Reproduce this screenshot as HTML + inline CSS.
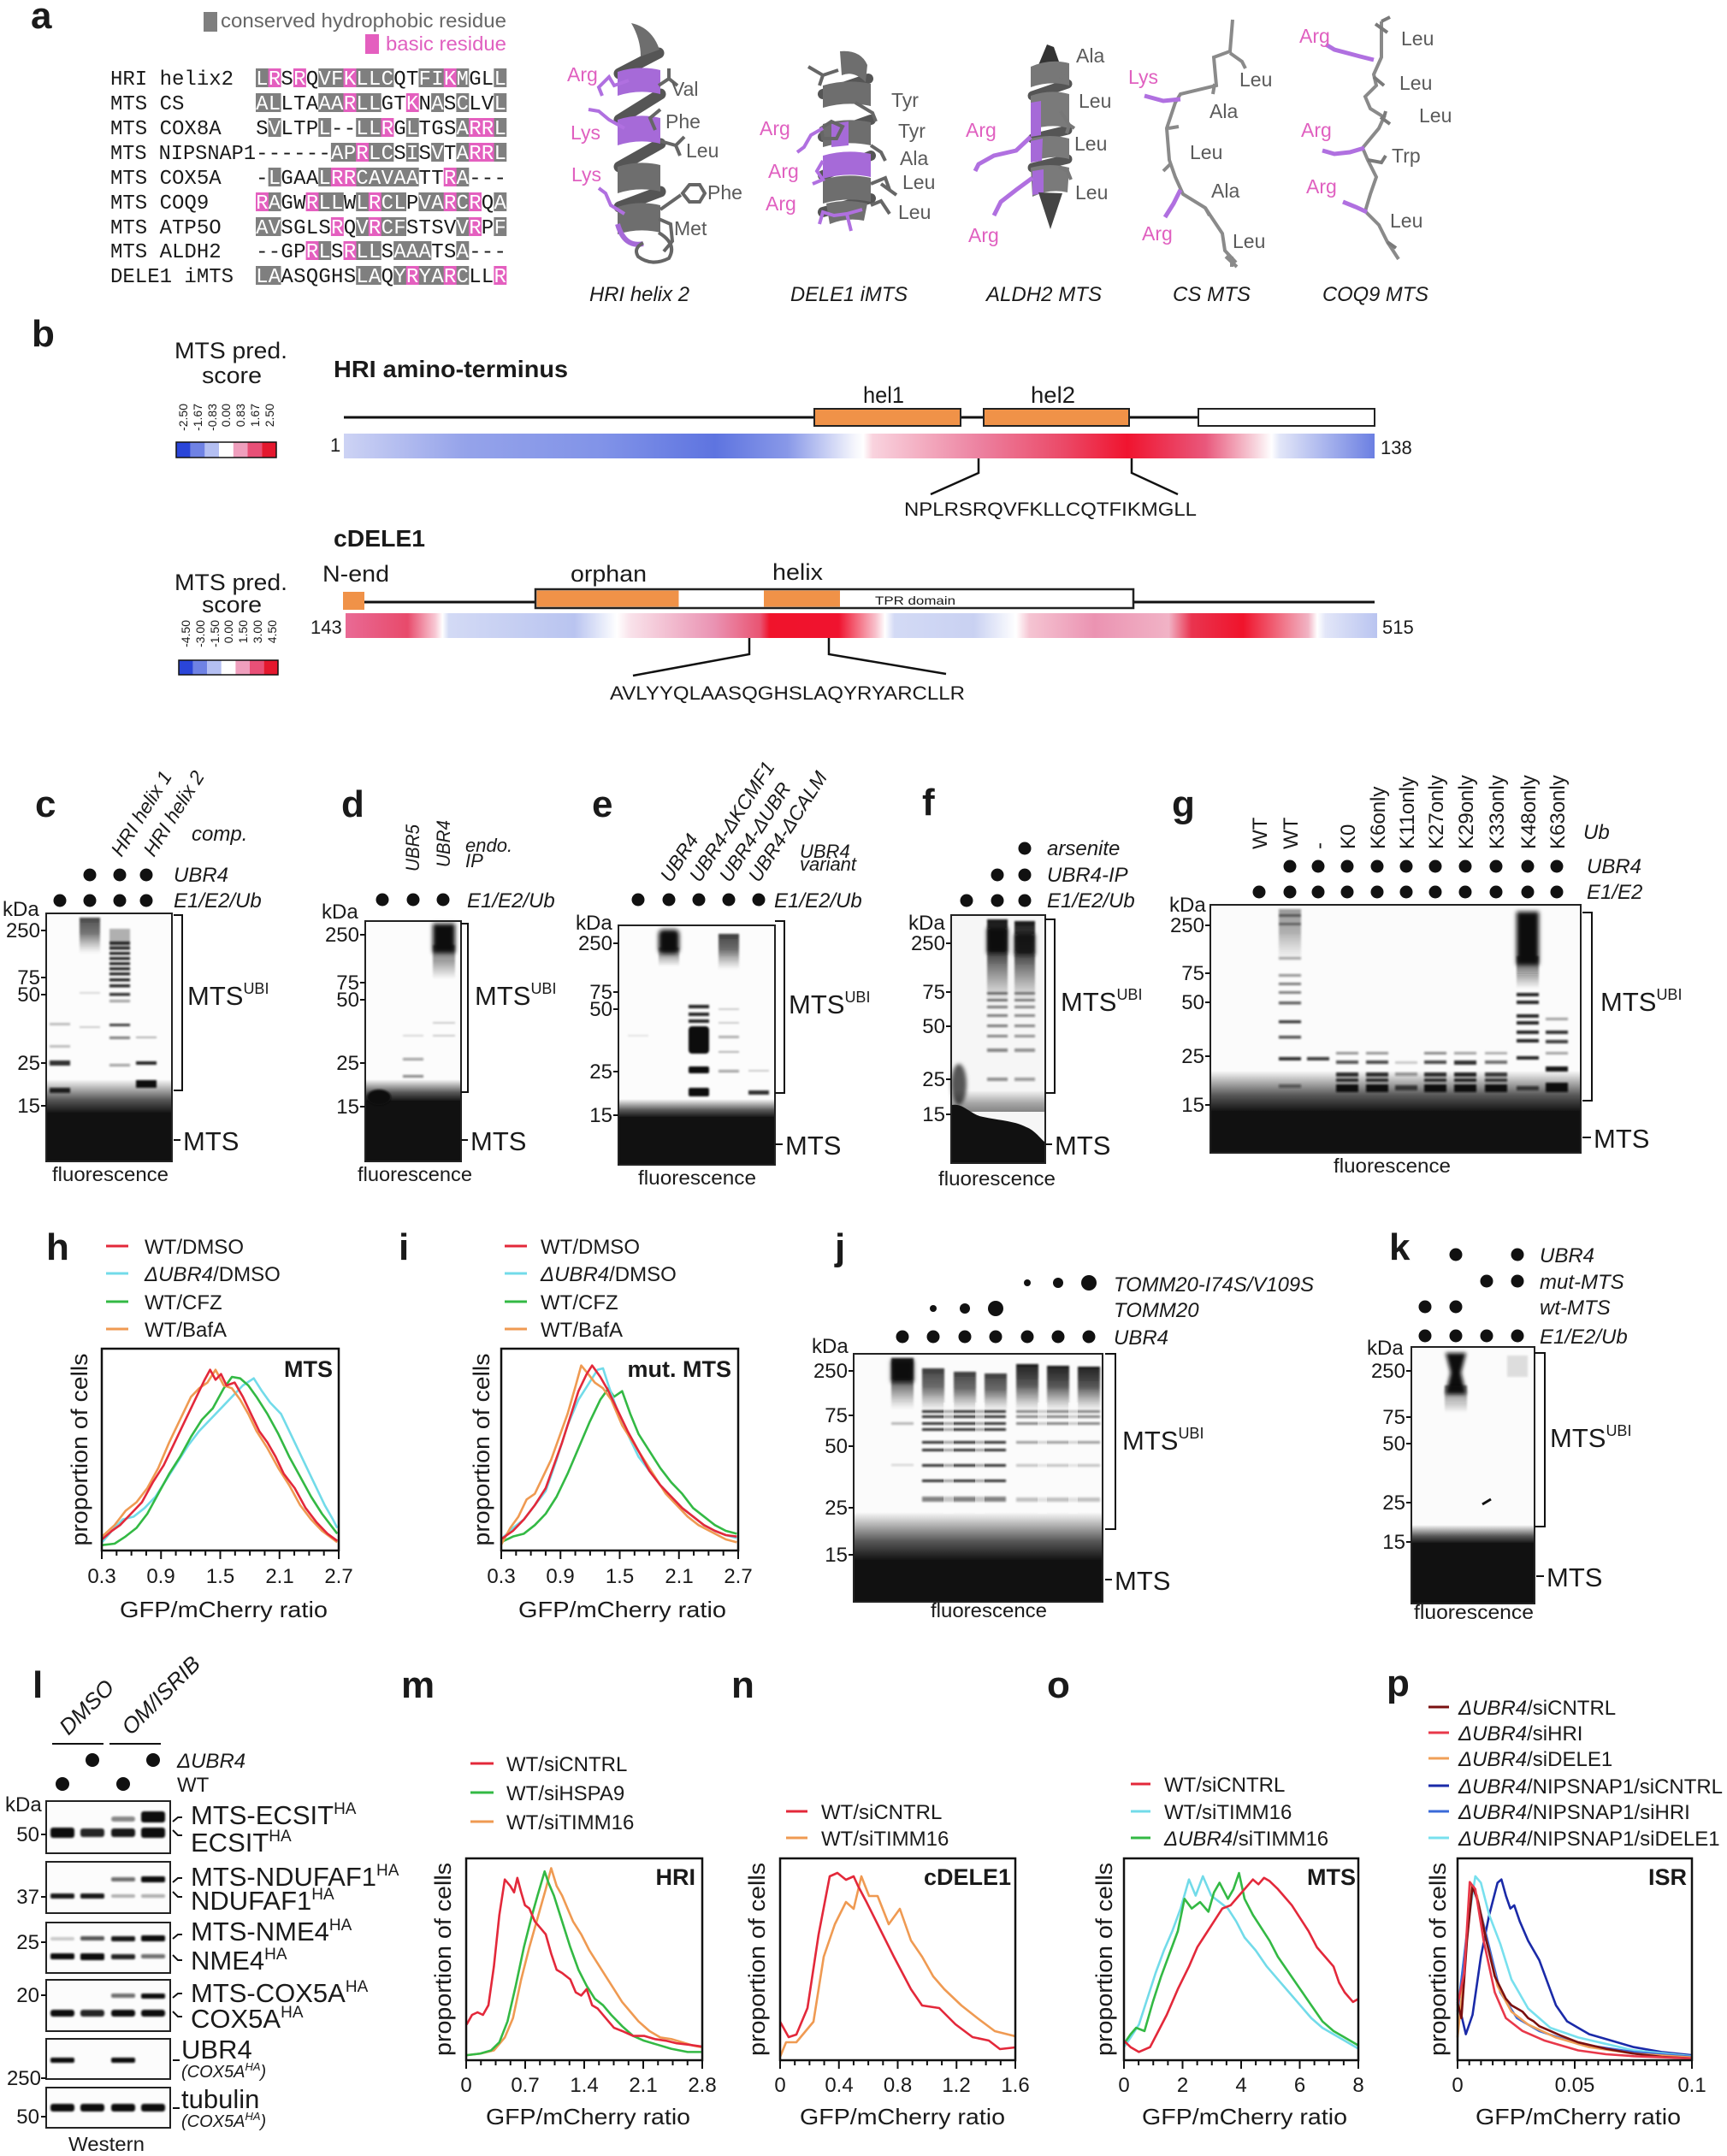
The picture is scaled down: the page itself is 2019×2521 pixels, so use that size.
<!DOCTYPE html>
<html><head><meta charset="utf-8">
<style>
html,body{margin:0;padding:0;background:#fff}
svg{display:block}
text{font-family:"Liberation Sans",Arial,sans-serif;fill:#1a1a1a}
.mono,.mono text,text.mono{font-family:"Liberation Mono","Courier New",monospace;font-size:24px}
.i{font-style:italic}
.bo{font-weight:bold}
.L{font-weight:bold;font-size:44px}
.t{font-size:24px}
.ra{text-anchor:end}
.mid{text-anchor:middle}
.cv{fill:none;stroke-width:2.6;stroke-linejoin:round}
.ax{fill:none;stroke:#111;stroke-width:2.5}
.tk{fill:none;stroke:#111;stroke-width:2}
</style></head><body>
<svg width="2019" height="2521" viewBox="0 0 2019 2521" xmlns="http://www.w3.org/2000/svg">
<defs>
<filter id="bl" x="-20%" y="-100%" width="140%" height="300%"><feGaussianBlur stdDeviation="1.1"/></filter>
<filter id="bl2" x="-30%" y="-30%" width="160%" height="160%"><feGaussianBlur stdDeviation="2.5"/></filter>
<linearGradient id="fd" x1="0" y1="0" x2="0" y2="1"><stop offset="0" stop-color="#111" stop-opacity="0"/><stop offset="0.6" stop-color="#111" stop-opacity="0.7"/><stop offset="1" stop-color="#111" stop-opacity="1"/></linearGradient>
<linearGradient id="fdr" x1="0" y1="0" x2="0" y2="1"><stop offset="0" stop-color="#111" stop-opacity="1"/><stop offset="1" stop-color="#111" stop-opacity="0"/></linearGradient>
<linearGradient id="sm" x1="0" y1="0" x2="0" y2="1"><stop offset="0" stop-color="#111" stop-opacity="0.95"/><stop offset="0.45" stop-color="#222" stop-opacity="0.75"/><stop offset="1" stop-color="#555" stop-opacity="0"/></linearGradient>
<linearGradient id="g1" x1="0" y1="0" x2="1" y2="0">
<stop offset="0" stop-color="#cdd3f4"/><stop offset="0.117" stop-color="#95a3ea"/><stop offset="0.25" stop-color="#8193e8"/><stop offset="0.36" stop-color="#5e74e0"/><stop offset="0.43" stop-color="#8898e8"/><stop offset="0.495" stop-color="#f4f5fc"/><stop offset="0.504" stop-color="#ffffff"/><stop offset="0.513" stop-color="#f9d3de"/><stop offset="0.62" stop-color="#ec7f9e"/><stop offset="0.70" stop-color="#eb4866"/><stop offset="0.76" stop-color="#f0142f"/><stop offset="0.836" stop-color="#e9587c"/><stop offset="0.886" stop-color="#f8d8e0"/><stop offset="0.90" stop-color="#ffffff"/><stop offset="0.908" stop-color="#e2e6f8"/><stop offset="1" stop-color="#6b7fe2"/>
</linearGradient>
<linearGradient id="g2" x1="0" y1="0" x2="1" y2="0">
<stop offset="0" stop-color="#e96a95"/><stop offset="0.06" stop-color="#e84a6b"/><stop offset="0.087" stop-color="#f8c8d4"/><stop offset="0.094" stop-color="#ffffff"/><stop offset="0.10" stop-color="#d3daf5"/><stop offset="0.222" stop-color="#b9c4f0"/><stop offset="0.263" stop-color="#ffffff"/><stop offset="0.276" stop-color="#f9e2ea"/><stop offset="0.357" stop-color="#ea93b3"/><stop offset="0.402" stop-color="#e95472"/><stop offset="0.411" stop-color="#f0132b"/><stop offset="0.478" stop-color="#f0132f"/><stop offset="0.514" stop-color="#f8c2cd"/><stop offset="0.523" stop-color="#ffffff"/><stop offset="0.532" stop-color="#d3daf5"/><stop offset="0.609" stop-color="#c9d1f2"/><stop offset="0.65" stop-color="#ffffff"/><stop offset="0.663" stop-color="#f5c4d2"/><stop offset="0.726" stop-color="#eb93b2"/><stop offset="0.798" stop-color="#f1b3c6"/><stop offset="0.82" stop-color="#e9344f"/><stop offset="0.87" stop-color="#f0132b"/><stop offset="0.933" stop-color="#f1b3c3"/><stop offset="0.942" stop-color="#ffffff"/><stop offset="0.95" stop-color="#e2e6f8"/><stop offset="1" stop-color="#b9c4f0"/>
</linearGradient>
</defs>
<rect width="2019" height="2521" fill="#fff"/>

<!-- ================= PANEL A ================= -->
<text x="36" y="33" class="L">a</text>
<rect x="238" y="14" width="16" height="23" fill="#7f7f7f"/>
<text x="258" y="32" font-size="23" style="fill:#666" textLength="334" lengthAdjust="spacingAndGlyphs">conserved hydrophobic residue</text>
<rect x="427" y="40" width="16" height="23" fill="#e45fbf"/>
<text x="451" y="59" font-size="23" style="fill:#e060c0" textLength="141" lengthAdjust="spacingAndGlyphs">basic residue</text>

<g class="mono">
<text x="129" y="99">HRI helix2</text>
<text x="129" y="128">MTS CS</text>
<text x="129" y="157">MTS COX8A</text>
<text x="129" y="186" textLength="170" lengthAdjust="spacingAndGlyphs">MTS NIPSNAP1</text>
<text x="129" y="215">MTS COX5A</text>
<text x="129" y="244">MTS COQ9</text>
<text x="129" y="273">MTS ATP5O</text>
<text x="129" y="301">MTS ALDH2</text>
<text x="129" y="330">DELE1 iMTS</text>
</g>
<!-- highlight boxes -->
<g fill="#7f7f7f">
<rect x="299" y="80" width="14.9" height="22"/><rect x="372.25" y="80" width="29.5" height="22"/><rect x="416.2" y="80" width="44.2" height="22"/><rect x="489.45" y="80" width="29.5" height="22"/><rect x="533.4" y="80" width="14.9" height="22"/><rect x="577.35" y="80" width="14.9" height="22"/>
<rect x="299" y="109" width="29.5" height="22"/><rect x="372.25" y="109" width="29.5" height="22"/><rect x="416.2" y="109" width="29.5" height="22"/><rect x="504.1" y="109" width="14.9" height="22"/><rect x="533.4" y="109" width="14.9" height="22"/><rect x="577.35" y="109" width="14.9" height="22"/>
<rect x="313.65" y="138" width="14.9" height="22"/><rect x="372.25" y="138" width="14.9" height="22"/><rect x="416.2" y="138" width="29.5" height="22"/><rect x="474.8" y="138" width="14.9" height="22"/><rect x="533.4" y="138" width="14.9" height="22"/><rect x="577.35" y="138" width="14.9" height="22"/>
<rect x="386.9" y="167" width="29.5" height="22"/><rect x="430.85" y="167" width="29.5" height="22"/><rect x="474.8" y="167" width="14.9" height="22"/><rect x="504.1" y="167" width="14.9" height="22"/><rect x="533.4" y="167" width="14.9" height="22"/><rect x="577.35" y="167" width="14.9" height="22"/>
<rect x="313.65" y="196" width="14.9" height="22"/><rect x="372.25" y="196" width="14.9" height="22"/><rect x="416.2" y="196" width="73.5" height="22"/><rect x="533.4" y="196" width="14.9" height="22"/>
<rect x="313.65" y="225" width="14.9" height="22"/><rect x="372.25" y="225" width="29.5" height="22"/><rect x="416.2" y="225" width="14.9" height="22"/><rect x="445.5" y="225" width="29.5" height="22"/><rect x="489.45" y="225" width="29.5" height="22"/><rect x="533.4" y="225" width="14.9" height="22"/><rect x="577.35" y="225" width="14.9" height="22"/>
<rect x="299" y="254" width="29.5" height="22"/><rect x="416.2" y="254" width="14.9" height="22"/><rect x="445.5" y="254" width="29.5" height="22"/><rect x="533.4" y="254" width="14.9" height="22"/><rect x="577.35" y="254" width="14.9" height="22"/>
<rect x="372.25" y="282" width="14.9" height="22"/><rect x="416.2" y="282" width="29.5" height="22"/><rect x="460.15" y="282" width="44.2" height="22"/><rect x="533.4" y="282" width="14.9" height="22"/>
<rect x="299" y="311" width="29.5" height="22"/><rect x="416.2" y="311" width="29.5" height="22"/><rect x="460.15" y="311" width="14.9" height="22"/><rect x="489.45" y="311" width="29.5" height="22"/><rect x="533.4" y="311" width="14.9" height="22"/>
</g>
<g fill="#e45fbf">
<rect x="313.65" y="80" width="14.9" height="22"/><rect x="342.95" y="80" width="14.9" height="22"/><rect x="401.55" y="80" width="14.9" height="22"/><rect x="518.75" y="80" width="14.9" height="22"/>
<rect x="401.55" y="109" width="14.9" height="22"/><rect x="474.8" y="109" width="14.9" height="22"/>
<rect x="445.5" y="138" width="14.9" height="22"/><rect x="548.05" y="138" width="29.5" height="22"/>
<rect x="416.2" y="167" width="14.9" height="22"/><rect x="548.05" y="167" width="29.5" height="22"/>
<rect x="386.9" y="196" width="29.5" height="22"/><rect x="518.75" y="196" width="14.9" height="22"/>
<rect x="299" y="225" width="14.9" height="22"/><rect x="357.6" y="225" width="14.9" height="22"/><rect x="430.85" y="225" width="14.9" height="22"/><rect x="518.75" y="225" width="14.9" height="22"/><rect x="548.05" y="225" width="14.9" height="22"/>
<rect x="386.9" y="254" width="14.9" height="22"/><rect x="430.85" y="254" width="14.9" height="22"/><rect x="548.05" y="254" width="14.9" height="22"/>
<rect x="357.6" y="282" width="14.9" height="22"/><rect x="401.55" y="282" width="14.9" height="22"/>
<rect x="474.8" y="311" width="14.9" height="22"/><rect x="518.75" y="311" width="14.9" height="22"/><rect x="577.35" y="311" width="14.9" height="22"/>
</g>
<g class="mono">
<text y="99" x="299.1 313.8 328.4 343.1 357.7 372.4 387 401.7 416.3 430.9 445.6 460.2 474.9 489.5 504.2 518.9 533.5 548.2 562.8 577.5"><tspan fill="#fff">LR</tspan>S<tspan fill="#fff">R</tspan>Q<tspan fill="#fff">VFKLLC</tspan>QT<tspan fill="#fff">FIKM</tspan>GL<tspan fill="#fff">L</tspan></text>
<text y="128" x="299.1 313.8 328.4 343.1 357.7 372.4 387 401.7 416.3 430.9 445.6 460.2 474.9 489.5 504.2 518.9 533.5 548.2 562.8 577.5"><tspan fill="#fff">AL</tspan>LTA<tspan fill="#fff">AARLL</tspan>GT<tspan fill="#fff">K</tspan>N<tspan fill="#fff">A</tspan>S<tspan fill="#fff">C</tspan>LV<tspan fill="#fff">L</tspan></text>
<text y="157" x="299.1 313.8 328.4 343.1 357.7 372.4 387 401.7 416.3 430.9 445.6 460.2 474.9 489.5 504.2 518.9 533.5 548.2 562.8 577.5">S<tspan fill="#fff">V</tspan>LTP<tspan fill="#fff">L</tspan>--<tspan fill="#fff">LLR</tspan>G<tspan fill="#fff">L</tspan>TGS<tspan fill="#fff">ARRL</tspan></text>
<text y="186" x="299.1 313.8 328.4 343.1 357.7 372.4 387 401.7 416.3 430.9 445.6 460.2 474.9 489.5 504.2 518.9 533.5 548.2 562.8 577.5">------<tspan fill="#fff">APRLC</tspan>S<tspan fill="#fff">I</tspan>S<tspan fill="#fff">V</tspan>T<tspan fill="#fff">ARRL</tspan></text>
<text y="215" x="299.1 313.8 328.4 343.1 357.7 372.4 387 401.7 416.3 430.9 445.6 460.2 474.9 489.5 504.2 518.9 533.5 548.2 562.8 577.5">-<tspan fill="#fff">L</tspan>GAA<tspan fill="#fff">LRRCAVAA</tspan>TT<tspan fill="#fff">RA</tspan>---</text>
<text y="244" x="299.1 313.8 328.4 343.1 357.7 372.4 387 401.7 416.3 430.9 445.6 460.2 474.9 489.5 504.2 518.9 533.5 548.2 562.8 577.5"><tspan fill="#fff">RA</tspan>GW<tspan fill="#fff">RLL</tspan>W<tspan fill="#fff">LRCL</tspan>P<tspan fill="#fff">VARCR</tspan>Q<tspan fill="#fff">A</tspan></text>
<text y="273" x="299.1 313.8 328.4 343.1 357.7 372.4 387 401.7 416.3 430.9 445.6 460.2 474.9 489.5 504.2 518.9 533.5 548.2 562.8 577.5"><tspan fill="#fff">AV</tspan>SGLS<tspan fill="#fff">R</tspan>Q<tspan fill="#fff">VRCF</tspan>STSV<tspan fill="#fff">VR</tspan>P<tspan fill="#fff">F</tspan></text>
<text y="301" x="299.1 313.8 328.4 343.1 357.7 372.4 387 401.7 416.3 430.9 445.6 460.2 474.9 489.5 504.2 518.9 533.5 548.2 562.8 577.5">--GP<tspan fill="#fff">RL</tspan>S<tspan fill="#fff">RLL</tspan>S<tspan fill="#fff">AAA</tspan>TS<tspan fill="#fff">A</tspan>---</text>
<text y="330" x="299.1 313.8 328.4 343.1 357.7 372.4 387 401.7 416.3 430.9 445.6 460.2 474.9 489.5 504.2 518.9 533.5 548.2 562.8 577.5"><tspan fill="#fff">LA</tspan>ASQGHS<tspan fill="#fff">LA</tspan>Q<tspan fill="#fff">YRYARC</tspan>LL<tspan fill="#fff">R</tspan></text>
</g>

<!-- HRI helix 2 structure -->
<g>
<g stroke="#555" stroke-width="13" fill="none" stroke-linecap="round">
<path d="M770,62 L724,86"/><path d="M772,110 L724,140"/><path d="M772,168 L724,195"/><path d="M772,224 L724,242"/>
</g>
<path d="M738,27 Q762,32 771,58 L749,66 Q749,46 738,27Z" fill="#6e6e6e"/>
<path d="M722,84 Q747,76 772,82 L772,110 Q747,104 722,112Z" fill="#a66ad8"/>
<path d="M722,140 Q747,132 772,138 L772,168 Q747,162 722,170Z" fill="#a66ad8"/>
<path d="M722,195 Q747,187 772,193 L772,224 Q747,218 722,226Z" fill="#6e6e6e"/>
<path d="M722,242 Q747,234 772,240 L772,272 Q747,266 722,274Z" fill="#6e6e6e"/>
<path d="M722,262 Q730,290 752,285" stroke="#a66ad8" stroke-width="6" fill="none"/>
<g stroke="#666" stroke-width="4" fill="none">
<path d="M770,100 L782,92 L792,100 M782,92 L782,80"/>
<path d="M772,128 L760,138 L766,152"/>
<path d="M772,165 L790,170 L800,160 M790,170 L795,182"/>
<path d="M772,245 L796,228"/>
<polygon points="798,226 806,216 818,216 824,226 818,236 806,236"/>
<path d="M770,256 L784,262 L786,282 L776,294"/>
<path d="M770,272 Q792,285 782,302 Q762,312 746,300 Q740,290 752,284"/>
</g>
<g stroke="#b070e0" stroke-width="4" fill="none">
<path d="M735,94 L718,100 L712,90 L700,102 L704,112"/>
<path d="M730,150 L712,140 L700,130 L688,128"/>
<path d="M730,250 L714,240 L708,226 L700,220"/>
</g>
</g>
<g font-size="23">
<text x="663" y="95" style="fill:#e060c0">Arg</text>
<text x="785" y="112" style="fill:#5a5a5a">Val</text>
<text x="778" y="150" style="fill:#5a5a5a">Phe</text>
<text x="667" y="163" style="fill:#e060c0">Lys</text>
<text x="802" y="184" style="fill:#5a5a5a">Leu</text>
<text x="668" y="212" style="fill:#e060c0">Lys</text>
<text x="827" y="233" style="fill:#5a5a5a">Phe</text>
<text x="788" y="275" style="fill:#5a5a5a">Met</text>
</g>
<text x="689" y="352" class="i" font-size="24" textLength="117" lengthAdjust="spacingAndGlyphs">HRI helix 2</text>

<!-- DELE1 iMTS structure -->
<g>
<g stroke="#555" stroke-width="12" fill="none" stroke-linecap="round">
<path d="M1015,92 L962,110"/><path d="M1018,140 L962,160"/><path d="M1018,182 L962,205"/><path d="M1018,232 L962,248"/>
</g>
<path d="M982,60 Q1006,58 1014,76 L1012,96 Q998,82 984,88Z" fill="#6e6e6e"/>
<path d="M962,100 Q990,92 1018,98 L1018,124 Q990,118 962,126Z" fill="#6e6e6e"/>
<path d="M962,145 Q990,137 1018,143 L1018,170 Q990,164 962,172Z" fill="#6e6e6e"/>
<path d="M972,145 L992,142 L992,170 L972,172Z" fill="#a66ad8"/>
<path d="M962,182 Q990,174 1018,180 L1018,207 Q990,201 962,209Z" fill="#a66ad8"/>
<path d="M962,210 Q990,202 1018,208 L1018,236 Q990,230 962,238Z" fill="#6e6e6e"/>
<path d="M966,238 Q990,232 1014,238 L1010,258 Q990,254 970,262Z" fill="#707070"/>
<g stroke="#666" stroke-width="4" fill="none">
<path d="M945,78 L962,88 L980,82 M962,88 L958,100"/>
<path d="M1000,120 L1020,132 L1024,142"/>
<path d="M960,150 L972,142 L985,148 L978,162 L962,162Z"/>
<path d="M1018,170 L1030,178 L1035,188"/>
<path d="M1018,215 L1035,208 L1040,222 M1030,215 L1048,228"/>
<path d="M1018,240 L1030,235 L1040,250"/>
</g>
<g stroke="#b070e0" stroke-width="4" fill="none">
<path d="M962,150 L948,158 L940,172 L932,178"/>
<path d="M962,188 L955,200 L962,210 L950,215"/>
<path d="M1008,245 L990,250 L975,252 L962,248 L958,262 M990,250 L995,270"/>
</g>
</g>
<g font-size="23">
<text x="1042" y="125" style="fill:#5a5a5a">Tyr</text>
<text x="1050" y="161" style="fill:#5a5a5a">Tyr</text>
<text x="1052" y="193" style="fill:#5a5a5a">Ala</text>
<text x="1055" y="221" style="fill:#5a5a5a">Leu</text>
<text x="1050" y="256" style="fill:#5a5a5a">Leu</text>
<text x="888" y="158" style="fill:#e060c0">Arg</text>
<text x="898" y="208" style="fill:#e060c0">Arg</text>
<text x="895" y="246" style="fill:#e060c0">Arg</text>
</g>
<text x="924" y="352" class="i" font-size="24" textLength="137" lengthAdjust="spacingAndGlyphs">DELE1 iMTS</text>

<!-- ALDH2 MTS structure -->
<g>
<g stroke="#555" stroke-width="11" fill="none" stroke-linecap="round">
<path d="M1248,98 L1207,112"/><path d="M1248,152 L1207,162"/><path d="M1248,186 L1207,196"/>
</g>
<path d="M1224,52 L1232,55 L1238,72 L1214,76Z" fill="#333"/>
<path d="M1205,78 Q1228,68 1250,74 L1250,100 Q1228,94 1205,102Z" fill="#777"/>
<path d="M1205,112 Q1228,104 1250,110 L1250,150 Q1228,144 1205,152Z" fill="#7a7a7a"/>
<path d="M1205,120 L1217,118 L1217,158 L1205,160Z" fill="#a66ad8"/>
<path d="M1205,162 Q1228,156 1250,162 L1250,186 Q1228,180 1205,190Z" fill="#7a7a7a"/>
<path d="M1205,165 L1219,162 L1218,188 L1205,190Z" fill="#a66ad8"/>
<path d="M1205,196 Q1228,190 1250,196 L1248,225 Q1228,220 1207,230Z" fill="#7a7a7a"/>
<path d="M1207,200 L1220,198 L1220,226 L1207,228Z" fill="#a66ad8"/>
<path d="M1214,225 L1242,226 L1228,268Z" fill="#444"/>
<g stroke="#777" stroke-width="4" fill="none">
<path d="M1240,92 L1245,80"/><path d="M1240,130 L1250,146 L1256,150 M1250,146 L1247,156"/><path d="M1238,195 L1248,200 L1252,210"/>
</g>
<g stroke="#b070e0" stroke-width="5" fill="none">
<path d="M1205,160 L1188,176 L1162,182 L1144,192 L1140,200"/>
<path d="M1207,208 L1188,222 L1170,236 L1162,252"/>
</g>
</g>
<g font-size="23">
<text x="1258" y="73" style="fill:#5a5a5a">Ala</text>
<text x="1261" y="126" style="fill:#5a5a5a">Leu</text>
<text x="1256" y="176" style="fill:#5a5a5a">Leu</text>
<text x="1257" y="233" style="fill:#5a5a5a">Leu</text>
<text x="1129" y="160" style="fill:#e060c0">Arg</text>
<text x="1132" y="283" style="fill:#e060c0">Arg</text>
</g>
<text x="1153" y="352" class="i" font-size="24" textLength="135" lengthAdjust="spacingAndGlyphs">ALDH2 MTS</text>

<!-- CS MTS -->
<path d="M1441,23 L1438,60 L1419,67 L1422,100 L1380,110 L1374,120 L1364,150 L1367,187 L1374,207 L1383,227 L1409,243 L1429,273 L1432,293 L1445,307" fill="none" stroke="#8a8a8a" stroke-width="4"/>
<g stroke="#8a8a8a" stroke-width="4" fill="none">
<path d="M1438,62 L1452,72 L1456,80"/><path d="M1420,98 L1418,110"/><path d="M1366,150 L1378,148"/><path d="M1368,192 L1360,200"/><path d="M1409,243 L1414,252"/><path d="M1433,300 L1446,312 M1440,300 L1440,312"/>
</g>
<g stroke="#b070e0" stroke-width="5" fill="none">
<path d="M1380,116 L1360,118 L1338,112"/>
<path d="M1380,222 L1372,238 L1362,254"/>
</g>
<g font-size="23">
<text x="1319" y="98" style="fill:#e060c0">Lys</text>
<text x="1449" y="101" style="fill:#5a5a5a">Leu</text>
<text x="1414" y="138" style="fill:#5a5a5a">Ala</text>
<text x="1391" y="186" style="fill:#5a5a5a">Leu</text>
<text x="1416" y="231" style="fill:#5a5a5a">Ala</text>
<text x="1335" y="281" style="fill:#e060c0">Arg</text>
<text x="1441" y="290" style="fill:#5a5a5a">Leu</text>
</g>
<text x="1371" y="352" class="i" font-size="24" textLength="91" lengthAdjust="spacingAndGlyphs">CS MTS</text>

<!-- COQ9 MTS -->
<path d="M1615,25 L1615,67 L1606,87 L1609,100 L1596,113 L1602,127 L1618,137 L1612,150 L1593,173 L1599,187 L1609,207 L1602,227 L1596,247 L1612,263 L1622,283 L1635,303" fill="none" stroke="#8a8a8a" stroke-width="4"/>
<g stroke="#7a7a7a" stroke-width="4" fill="none">
<path d="M1608,28 L1622,38 M1615,25 L1625,20"/><path d="M1606,90 L1618,100"/><path d="M1614,137 L1625,145 M1618,137 L1620,130"/><path d="M1599,187 L1615,190 L1620,182"/><path d="M1622,283 L1632,290"/>
</g>
<g stroke="#b070e0" stroke-width="5" fill="none">
<path d="M1606,70 L1590,66 L1575,62 L1560,58 L1550,52"/>
<path d="M1595,173 L1578,178 L1560,180 L1546,176"/>
<path d="M1598,248 L1585,242 L1570,236"/>
</g>
<g font-size="23">
<text x="1519" y="50" style="fill:#e060c0">Arg</text>
<text x="1638" y="53" style="fill:#5a5a5a">Leu</text>
<text x="1636" y="105" style="fill:#5a5a5a">Leu</text>
<text x="1659" y="143" style="fill:#5a5a5a">Leu</text>
<text x="1521" y="160" style="fill:#e060c0">Arg</text>
<text x="1627" y="190" style="fill:#5a5a5a">Trp</text>
<text x="1527" y="226" style="fill:#e060c0">Arg</text>
<text x="1625" y="266" style="fill:#5a5a5a">Leu</text>
</g>
<text x="1546" y="352" class="i" font-size="24" textLength="124" lengthAdjust="spacingAndGlyphs">COQ9 MTS</text>

<!-- ================= PANEL B ================= -->
<text x="37" y="405" class="L">b</text>
<text x="270" y="419" class="mid" font-size="27" textLength="132" lengthAdjust="spacingAndGlyphs">MTS pred.</text>
<text x="271" y="448" class="mid" font-size="27" textLength="70" lengthAdjust="spacingAndGlyphs">score</text>
<g font-size="14">
<text transform="translate(219 472) rotate(-90)" class="ra">-2.50</text>
<text transform="translate(236 472) rotate(-90)" class="ra">-1.67</text>
<text transform="translate(253 472) rotate(-90)" class="ra">-0.83</text>
<text transform="translate(269 472) rotate(-90)" class="ra">0.00</text>
<text transform="translate(286 472) rotate(-90)" class="ra">0.83</text>
<text transform="translate(303 472) rotate(-90)" class="ra">1.67</text>
<text transform="translate(320 472) rotate(-90)" class="ra">2.50</text>
</g>
<g>
<rect x="206" y="517" width="16.7" height="18" fill="#2a45d8"/><rect x="222.7" y="517" width="16.7" height="18" fill="#6f82e4"/><rect x="239.4" y="517" width="16.7" height="18" fill="#b4bff2"/><rect x="256.1" y="517" width="16.7" height="18" fill="#ffffff"/><rect x="272.8" y="517" width="16.7" height="18" fill="#ef9fbd"/><rect x="289.5" y="517" width="16.7" height="18" fill="#e85077"/><rect x="306.2" y="517" width="16.8" height="18" fill="#e4182e"/>
<rect x="206" y="517" width="117" height="18" fill="none" stroke="#111" stroke-width="1.5"/>
</g>
<text x="390" y="441" class="bo" font-size="28" textLength="274" lengthAdjust="spacingAndGlyphs">HRI amino-terminus</text>
<line x1="402" y1="488" x2="1607" y2="488" stroke="#111" stroke-width="3"/>
<rect x="952" y="478" width="171" height="20" fill="#f09248" stroke="#222" stroke-width="2"/>
<rect x="1150" y="478" width="170" height="20" fill="#f09248" stroke="#222" stroke-width="2"/>
<rect x="1401" y="478" width="206" height="20" fill="#fff" stroke="#222" stroke-width="2"/>
<text x="1033" y="471" class="mid" font-size="27" textLength="48" lengthAdjust="spacingAndGlyphs">hel1</text>
<text x="1231" y="471" class="mid" font-size="27" textLength="52" lengthAdjust="spacingAndGlyphs">hel2</text>
<rect x="402" y="507" width="1205" height="29" fill="url(#g1)"/>
<text x="386" y="528" font-size="22">1</text>
<text x="1614" y="531" font-size="22">138</text>
<polyline points="1144,536 1144,553 1088,578" fill="none" stroke="#111" stroke-width="2.5"/>
<polyline points="1323,536 1323,553 1377,578" fill="none" stroke="#111" stroke-width="2.5"/>
<text x="1057" y="603" font-size="22" textLength="342" lengthAdjust="spacingAndGlyphs">NPLRSRQVFKLLCQTFIKMGLL</text>

<text x="390" y="639" class="bo" font-size="28" textLength="107" lengthAdjust="spacingAndGlyphs">cDELE1</text>
<text x="377" y="680" font-size="27" textLength="78" lengthAdjust="spacingAndGlyphs">N-end</text>
<text x="667" y="680" font-size="27" textLength="89" lengthAdjust="spacingAndGlyphs">orphan</text>
<text x="903" y="678" font-size="27" textLength="59" lengthAdjust="spacingAndGlyphs">helix</text>
<text x="270" y="690" class="mid" font-size="27" textLength="132" lengthAdjust="spacingAndGlyphs">MTS pred.</text>
<text x="271" y="716" class="mid" font-size="27" textLength="70" lengthAdjust="spacingAndGlyphs">score</text>
<g font-size="14">
<text transform="translate(222 725) rotate(-90)" class="ra">-4.50</text>
<text transform="translate(239 725) rotate(-90)" class="ra">-3.00</text>
<text transform="translate(256 725) rotate(-90)" class="ra">-1.50</text>
<text transform="translate(272 725) rotate(-90)" class="ra">0.00</text>
<text transform="translate(289 725) rotate(-90)" class="ra">1.50</text>
<text transform="translate(306 725) rotate(-90)" class="ra">3.00</text>
<text transform="translate(323 725) rotate(-90)" class="ra">4.50</text>
</g>
<g>
<rect x="209" y="772" width="16.6" height="17" fill="#2a45d8"/><rect x="225.6" y="772" width="16.6" height="17" fill="#6f82e4"/><rect x="242.2" y="772" width="16.6" height="17" fill="#b4bff2"/><rect x="258.8" y="772" width="16.6" height="17" fill="#ffffff"/><rect x="275.4" y="772" width="16.6" height="17" fill="#ef9fbd"/><rect x="292" y="772" width="16.6" height="17" fill="#e85077"/><rect x="308.6" y="772" width="16.4" height="17" fill="#e4182e"/>
<rect x="209" y="772" width="116" height="17" fill="none" stroke="#111" stroke-width="1.5"/>
</g>
<line x1="401" y1="704" x2="1607" y2="704" stroke="#111" stroke-width="3"/>
<rect x="401" y="692" width="25" height="21" fill="#f09248"/>
<rect x="626" y="689" width="699" height="22" fill="#fff" stroke="#222" stroke-width="2.5"/>
<rect x="627.5" y="690.5" width="166" height="19" fill="#f09248"/>
<rect x="893" y="690.5" width="89" height="19" fill="#f09248"/>
<text x="1023" y="707" font-size="14" textLength="94" lengthAdjust="spacingAndGlyphs">TPR domain</text>
<rect x="404" y="717" width="1206" height="29" fill="url(#g2)"/>
<text x="363" y="741" font-size="22">143</text>
<text x="1616" y="741" font-size="22">515</text>
<polyline points="876,746 876,765 740,790" fill="none" stroke="#111" stroke-width="2.5"/>
<polyline points="969,746 969,765 1106,788" fill="none" stroke="#111" stroke-width="2.5"/>
<text x="713" y="818" font-size="22" textLength="415" lengthAdjust="spacingAndGlyphs">AVLYYQLAASQGHSLAQYRYARCLLR</text>

<!-- ================= PANEL C ================= -->
<text x="41" y="955" class="L">c</text>
<text transform="translate(142 1003) rotate(-58)" class="i" font-size="23">HRI helix 1</text>
<text transform="translate(180 1003) rotate(-58)" class="i" font-size="23">HRI helix 2</text>
<text x="224" y="983" class="i t">comp.</text>
<g fill="#111"><circle cx="105" cy="1023" r="7.5"/><circle cx="140" cy="1023" r="7.5"/><circle cx="171" cy="1023" r="7.5"/>
<circle cx="70" cy="1053" r="7.5"/><circle cx="105" cy="1053" r="7.5"/><circle cx="140" cy="1053" r="7.5"/><circle cx="171" cy="1053" r="7.5"/></g>
<text x="203" y="1031" class="i t">UBR4</text>
<text x="203" y="1061" class="i t">E1/E2/Ub</text>
<text x="3" y="1071" class="t">kDa</text>
<rect x="54" y="1068" width="147" height="290" fill="#fcfcfc"/>
<rect x="55" y="1262" width="145" height="40" fill="url(#fd)"/>
<rect x="55" y="1301" width="145" height="57" fill="#111"/>
<g fill="#111" filter="url(#bl)">
<rect x="58" y="1196" width="24" height="3" opacity=".25"/><rect x="58" y="1222" width="24" height="3" opacity=".25"/><rect x="58" y="1240" width="24" height="6" opacity=".85"/><rect x="58" y="1272" width="24" height="6" opacity=".9"/>
<rect x="93" y="1073" width="24" height="42" fill="url(#sm)" opacity=".8"/><rect x="93" y="1160" width="24" height="2" opacity=".15"/><rect x="93" y="1200" width="24" height="2" opacity=".2"/>
<rect x="128" y="1086" width="24" height="22" opacity=".3"/>
<rect x="128" y="1101" width="24" height="3.5" opacity=".9"/><rect x="128" y="1107" width="24" height="3.5" opacity=".9"/><rect x="128" y="1113" width="24" height="3.5" opacity=".9"/><rect x="128" y="1119" width="24" height="3.5" opacity=".9"/><rect x="128" y="1125" width="24" height="3.5" opacity=".9"/><rect x="128" y="1131" width="24" height="3.5" opacity=".9"/><rect x="128" y="1137" width="24" height="3.5" opacity=".9"/><rect x="128" y="1144" width="24" height="3.5" opacity=".9"/><rect x="128" y="1151" width="24" height="3.5" opacity=".9"/><rect x="128" y="1161" width="24" height="3.5" opacity=".85"/><rect x="128" y="1169" width="24" height="3" opacity=".4"/><rect x="128" y="1197" width="24" height="3" opacity=".8"/><rect x="128" y="1212" width="24" height="3" opacity=".55"/><rect x="128" y="1244" width="24" height="3" opacity=".4"/>
<rect x="159" y="1212" width="24" height="2" opacity=".3"/><rect x="159" y="1241" width="24" height="4" opacity=".9"/><rect x="159" y="1263" width="24" height="9" opacity="1"/>
</g>
<rect x="54" y="1068" width="147" height="290" fill="none" stroke="#222" stroke-width="2"/>
<g class="t"><text x="47" y="1096" class="ra">250</text><text x="47" y="1151" class="ra">75</text><text x="47" y="1171" class="ra">50</text><text x="47" y="1251" class="ra">25</text><text x="47" y="1301" class="ra">15</text></g>
<path d="M48,1088h6M48,1143h6M48,1163h6M48,1243h6M48,1293h6" class="tk"/>
<path d="M203,1070h10v205h-10" class="tk"/>
<text x="219" y="1175" font-size="31">MTS<tspan font-size="18" dy="-13">UBI</tspan></text>
<path d="M203,1333h8" class="tk"/>
<text x="214" y="1345" font-size="31">MTS</text>
<text x="61" y="1381" font-size="23" textLength="136" lengthAdjust="spacingAndGlyphs">fluorescence</text>

<!-- ================= PANEL D ================= -->
<text x="399" y="955" class="L">d</text>
<text transform="translate(490 1019) rotate(-90)" class="i" font-size="22" textLength="55" lengthAdjust="spacingAndGlyphs">UBR5</text>
<text transform="translate(526 1014) rotate(-90)" class="i" font-size="22" textLength="55" lengthAdjust="spacingAndGlyphs">UBR4</text>
<text x="544" y="996" class="i" font-size="22">endo.</text>
<text x="544" y="1014" class="i" font-size="22">IP</text>
<g fill="#111"><circle cx="447" cy="1052" r="7.5"/><circle cx="483" cy="1052" r="7.5"/><circle cx="518" cy="1052" r="7.5"/></g>
<text x="546" y="1061" class="i t">E1/E2/Ub</text>
<text x="376" y="1074" class="t">kDa</text>
<rect x="427" y="1077" width="112" height="281" fill="#fcfcfc"/>
<rect x="428" y="1262" width="110" height="26" fill="url(#fd)"/>
<rect x="428" y="1287" width="110" height="71" fill="#111"/>
<ellipse cx="443" cy="1283" rx="14" ry="9" fill="#111" filter="url(#bl)"/>
<g fill="#111" filter="url(#bl)">
<rect x="506" y="1080" width="26" height="34" filter="url(#bl2)"/>
<rect x="506" y="1105" width="26" height="40" fill="url(#fdr)" opacity=".7"/>
<rect x="506" y="1195" width="26" height="2" opacity=".2"/><rect x="506" y="1210" width="26" height="2" opacity=".2"/>
<rect x="471" y="1237" width="24" height="3" opacity=".4"/><rect x="471" y="1257" width="24" height="3" opacity=".5"/><rect x="471" y="1210" width="24" height="2" opacity=".15"/>
</g>
<rect x="427" y="1077" width="112" height="281" fill="none" stroke="#222" stroke-width="2"/>
<g class="t"><text x="420" y="1101" class="ra">250</text><text x="420" y="1157" class="ra">75</text><text x="420" y="1177" class="ra">50</text><text x="420" y="1251" class="ra">25</text><text x="420" y="1302" class="ra">15</text></g>
<path d="M421,1093h6M421,1149h6M421,1169h6M421,1243h6M421,1294h6" class="tk"/>
<path d="M539,1080h8v197h-8" class="tk"/>
<text x="555" y="1175" font-size="31">MTS<tspan font-size="18" dy="-13">UBI</tspan></text>
<path d="M539,1333h8" class="tk"/>
<text x="550" y="1345" font-size="31">MTS</text>
<text x="418" y="1381" font-size="23" textLength="134" lengthAdjust="spacingAndGlyphs">fluorescence</text>

<!-- ================= PANEL E ================= -->
<text x="692" y="955" class="L">e</text>
<g class="i" font-size="23">
<text transform="translate(784 1033) rotate(-57)">UBR4</text>
<text transform="translate(818 1033) rotate(-57)">UBR4-ΔKCMF1</text>
<text transform="translate(853 1033) rotate(-57)">UBR4-ΔUBR</text>
<text transform="translate(887 1033) rotate(-57)">UBR4-ΔCALM</text>
</g>
<text x="935" y="1003" class="i" font-size="22">UBR4</text>
<text x="935" y="1018" class="i" font-size="22">variant</text>
<g fill="#111"><circle cx="746" cy="1052" r="7.5"/><circle cx="782" cy="1052" r="7.5"/><circle cx="817" cy="1052" r="7.5"/><circle cx="852" cy="1052" r="7.5"/><circle cx="887" cy="1052" r="7.5"/></g>
<text x="905" y="1061" class="i t">E1/E2/Ub</text>
<text x="673" y="1087" class="t">kDa</text>
<rect x="723" y="1082" width="183" height="280" fill="#fcfcfc"/>
<rect x="724" y="1285" width="181" height="22" fill="url(#fd)"/>
<rect x="724" y="1306" width="181" height="56" fill="#111"/>
<g fill="#111" filter="url(#bl)">
<rect x="770" y="1087" width="24" height="28" rx="5" filter="url(#bl2)"/>
<rect x="770" y="1108" width="24" height="22" fill="url(#fdr)" opacity=".6"/>
<rect x="734" y="1210" width="24" height="2" opacity=".1"/>
<rect x="805" y="1175" width="24" height="4" opacity=".9"/><rect x="805" y="1184" width="24" height="4" opacity=".9"/><rect x="805" y="1192" width="24" height="4" opacity=".9"/>
<rect x="805" y="1200" width="24" height="32" rx="4"/>
<rect x="805" y="1247" width="24" height="8" rx="2"/>
<rect x="805" y="1272" width="24" height="10" rx="2"/>
<rect x="840" y="1092" width="24" height="42" fill="url(#sm)" opacity=".85"/>
<rect x="840" y="1179" width="24" height="2" opacity=".2"/><rect x="840" y="1195" width="24" height="2" opacity=".2"/><rect x="840" y="1211" width="24" height="3" opacity=".3"/><rect x="840" y="1229" width="24" height="2" opacity=".3"/><rect x="840" y="1251" width="24" height="3" opacity=".4"/>
<rect x="875" y="1251" width="24" height="2" opacity=".2"/><rect x="875" y="1275" width="24" height="5" opacity=".85"/>
</g>
<rect x="723" y="1082" width="183" height="280" fill="none" stroke="#222" stroke-width="2"/>
<g class="t"><text x="716" y="1111" class="ra">250</text><text x="716" y="1168" class="ra">75</text><text x="716" y="1188" class="ra">50</text><text x="716" y="1261" class="ra">25</text><text x="716" y="1312" class="ra">15</text></g>
<path d="M717,1103h6M717,1160h6M717,1180h6M717,1253h6M717,1304h6" class="tk"/>
<path d="M906,1077h11v201h-11" class="tk"/>
<text x="922" y="1185" font-size="31">MTS<tspan font-size="18" dy="-13">UBI</tspan></text>
<path d="M906,1338h9" class="tk"/>
<text x="918" y="1350" font-size="31">MTS</text>
<text x="746" y="1385" font-size="23" textLength="138" lengthAdjust="spacingAndGlyphs">fluorescence</text>

<!-- ================= PANEL F ================= -->
<text x="1078" y="953" class="L">f</text>
<g fill="#111"><circle cx="1198" cy="992" r="7.5"/><circle cx="1166" cy="1023" r="7.5"/><circle cx="1198" cy="1023" r="7.5"/>
<circle cx="1130" cy="1053" r="7.5"/><circle cx="1166" cy="1053" r="7.5"/><circle cx="1198" cy="1053" r="7.5"/></g>
<text x="1224" y="1000" class="i t">arsenite</text>
<text x="1224" y="1031" class="i t">UBR4-IP</text>
<text x="1224" y="1061" class="i t">E1/E2/Ub</text>
<text x="1062" y="1087" class="t">kDa</text>
<rect x="1112" y="1070" width="110" height="290" fill="#f6f6f6"/>
<ellipse cx="1121" cy="1268" rx="9" ry="24" fill="#555" filter="url(#bl2)"/>
<rect x="1113" y="1275" width="108" height="25" fill="url(#fd)" opacity=".5"/>
<path d="M1113,1292 C1125,1290 1132,1300 1145,1305 C1165,1310 1185,1310 1200,1318 C1210,1322 1215,1330 1221,1335 L1221,1359 L1113,1359Z" fill="#111"/>
<g fill="#111" filter="url(#bl)">
<rect x="1154" y="1075" width="24" height="100" fill="url(#sm)"/>
<rect x="1186" y="1077" width="24" height="98" fill="url(#sm)"/>
<rect x="1154" y="1085" width="24" height="30" filter="url(#bl2)"/>
<rect x="1186" y="1092" width="24" height="25" opacity=".8" filter="url(#bl2)"/>
<rect x="1154" y="1160" width="24" height="3" opacity=".55"/><rect x="1154" y="1168" width="24" height="3" opacity=".55"/><rect x="1154" y="1176" width="24" height="3" opacity=".55"/><rect x="1154" y="1186" width="24" height="3" opacity=".55"/><rect x="1154" y="1198" width="24" height="3" opacity=".55"/><rect x="1154" y="1210" width="24" height="3" opacity=".5"/><rect x="1154" y="1226" width="24" height="4" opacity=".5"/><rect x="1154" y="1260" width="24" height="4" opacity=".45"/>
<rect x="1186" y="1160" width="24" height="3" opacity=".5"/><rect x="1186" y="1168" width="24" height="3" opacity=".5"/><rect x="1186" y="1176" width="24" height="3" opacity=".5"/><rect x="1186" y="1186" width="24" height="3" opacity=".5"/><rect x="1186" y="1198" width="24" height="3" opacity=".5"/><rect x="1186" y="1210" width="24" height="3" opacity=".45"/><rect x="1186" y="1226" width="24" height="4" opacity=".45"/><rect x="1186" y="1260" width="24" height="4" opacity=".4"/>
</g>
<rect x="1112" y="1070" width="110" height="290" fill="none" stroke="#222" stroke-width="2"/>
<g class="t"><text x="1105" y="1111" class="ra">250</text><text x="1105" y="1168" class="ra">75</text><text x="1105" y="1208" class="ra">50</text><text x="1105" y="1270" class="ra">25</text><text x="1105" y="1311" class="ra">15</text></g>
<path d="M1106,1103h6M1106,1160h6M1106,1200h6M1106,1262h6M1106,1303h6" class="tk"/>
<path d="M1222,1075h11v203h-11" class="tk"/>
<text x="1240" y="1182" font-size="31">MTS<tspan font-size="18" dy="-13">UBI</tspan></text>
<path d="M1222,1338h8" class="tk"/>
<text x="1233" y="1350" font-size="31">MTS</text>
<text x="1097" y="1386" font-size="23" textLength="137" lengthAdjust="spacingAndGlyphs">fluorescence</text>

<!-- ================= PANEL G ================= -->
<text x="1370" y="955" class="L">g</text>
<g font-size="24">
<text transform="translate(1481 993) rotate(-90)">WT</text>
<text transform="translate(1517 993) rotate(-90)">WT</text>
<text transform="translate(1550 993) rotate(-90)">-</text>
<text transform="translate(1584 993) rotate(-90)">K0</text>
<text transform="translate(1619 993) rotate(-90)">K6only</text>
<text transform="translate(1653 993) rotate(-90)">K11only</text>
<text transform="translate(1687 993) rotate(-90)">K27only</text>
<text transform="translate(1722 993) rotate(-90)">K29only</text>
<text transform="translate(1758 993) rotate(-90)">K33only</text>
<text transform="translate(1795 993) rotate(-90)">K48only</text>
<text transform="translate(1829 993) rotate(-90)">K63only</text>
</g>
<text x="1851" y="981" class="i t">Ub</text>
<text x="1855" y="1021" class="i t">UBR4</text>
<text x="1855" y="1051" class="i t">E1/E2</text>
<g fill="#111">
<circle cx="1508" cy="1013" r="7.5"/><circle cx="1541" cy="1013" r="7.5"/><circle cx="1575" cy="1013" r="7.5"/><circle cx="1610" cy="1013" r="7.5"/><circle cx="1644" cy="1013" r="7.5"/><circle cx="1678" cy="1013" r="7.5"/><circle cx="1713" cy="1013" r="7.5"/><circle cx="1749" cy="1013" r="7.5"/><circle cx="1786" cy="1013" r="7.5"/><circle cx="1820" cy="1013" r="7.5"/>
<circle cx="1472" cy="1043" r="7.5"/><circle cx="1508" cy="1043" r="7.5"/><circle cx="1541" cy="1043" r="7.5"/><circle cx="1575" cy="1043" r="7.5"/><circle cx="1610" cy="1043" r="7.5"/><circle cx="1644" cy="1043" r="7.5"/><circle cx="1678" cy="1043" r="7.5"/><circle cx="1713" cy="1043" r="7.5"/><circle cx="1749" cy="1043" r="7.5"/><circle cx="1786" cy="1043" r="7.5"/><circle cx="1820" cy="1043" r="7.5"/>
</g>
<text x="1367" y="1066" class="t">kDa</text>
<rect x="1415" y="1058" width="433" height="290" fill="#fbfbfb"/>
<rect x="1416" y="1252" width="431" height="48" fill="url(#fd)"/>
<rect x="1416" y="1299" width="431" height="49" fill="#111"/>
<g fill="#111" filter="url(#bl)">
<rect x="1495" y="1063" width="26" height="62" fill="url(#sm)" opacity=".45"/>
<rect x="1495" y="1069" width="26" height="3" opacity=".5"/><rect x="1495" y="1079" width="26" height="3" opacity=".45"/><rect x="1495" y="1119" width="26" height="3" opacity=".35"/><rect x="1495" y="1139" width="26" height="3" opacity=".45"/><rect x="1495" y="1149" width="26" height="3" opacity=".55"/><rect x="1495" y="1159" width="26" height="3" opacity=".55"/><rect x="1495" y="1171" width="26" height="3.5" opacity=".65"/><rect x="1495" y="1193" width="26" height="3.5" opacity=".8"/><rect x="1495" y="1211" width="26" height="3.5" opacity=".7"/><rect x="1495" y="1236" width="26" height="4" opacity=".85"/><rect x="1495" y="1268" width="26" height="4" opacity=".5"/>
<rect x="1528" y="1236" width="26" height="4" opacity=".8"/>
<rect x="1562" y="1230" width="26" height="3" opacity=".45"/><rect x="1562" y="1240" width="26" height="4" opacity=".7"/><rect x="1562" y="1254" width="26" height="5" opacity=".85"/><rect x="1562" y="1261" width="26" height="4" opacity=".85"/><rect x="1562" y="1268" width="26" height="9" opacity="1"/>
<rect x="1597" y="1230" width="26" height="3" opacity=".45"/><rect x="1597" y="1240" width="26" height="4" opacity=".75"/><rect x="1597" y="1254" width="26" height="5" opacity=".85"/><rect x="1597" y="1261" width="26" height="4" opacity=".85"/><rect x="1597" y="1268" width="26" height="9" opacity="1"/>
<rect x="1631" y="1241" width="26" height="3" opacity=".2"/><rect x="1631" y="1254" width="26" height="4" opacity=".4"/><rect x="1631" y="1269" width="26" height="6" opacity=".7"/>
<rect x="1665" y="1230" width="26" height="3" opacity=".5"/><rect x="1665" y="1240" width="26" height="4" opacity=".75"/><rect x="1665" y="1254" width="26" height="5" opacity=".85"/><rect x="1665" y="1261" width="26" height="4" opacity=".85"/><rect x="1665" y="1268" width="26" height="9" opacity="1"/>
<rect x="1700" y="1230" width="26" height="3" opacity=".4"/><rect x="1700" y="1240" width="26" height="5" opacity=".85"/><rect x="1700" y="1254" width="26" height="5" opacity=".9"/><rect x="1700" y="1261" width="26" height="4" opacity=".9"/><rect x="1700" y="1268" width="26" height="9" opacity="1"/>
<rect x="1736" y="1230" width="26" height="3" opacity=".3"/><rect x="1736" y="1240" width="26" height="4" opacity=".6"/><rect x="1736" y="1254" width="26" height="5" opacity=".8"/><rect x="1736" y="1261" width="26" height="4" opacity=".8"/><rect x="1736" y="1268" width="26" height="9" opacity="1"/>
<rect x="1773" y="1066" width="26" height="62" filter="url(#bl2)"/>
<rect x="1773" y="1118" width="26" height="38" fill="url(#fdr)" opacity=".8"/>
<rect x="1773" y="1161" width="26" height="4" opacity=".9"/><rect x="1773" y="1170" width="26" height="4" opacity=".9"/><rect x="1773" y="1186" width="26" height="4" opacity=".9"/><rect x="1773" y="1194" width="26" height="4" opacity=".9"/><rect x="1773" y="1205" width="26" height="4" opacity=".9"/><rect x="1773" y="1215" width="26" height="4" opacity=".9"/><rect x="1773" y="1235" width="26" height="4" opacity=".9"/><rect x="1773" y="1270" width="26" height="5" opacity=".7"/>
<rect x="1807" y="1190" width="26" height="3" opacity=".4"/><rect x="1807" y="1205" width="26" height="4" opacity=".85"/><rect x="1807" y="1216" width="26" height="4" opacity=".8"/><rect x="1807" y="1230" width="26" height="3" opacity=".4"/><rect x="1807" y="1247" width="26" height="6" opacity=".95"/><rect x="1807" y="1266" width="26" height="11" opacity="1"/>
</g>
<rect x="1415" y="1058" width="433" height="290" fill="none" stroke="#222" stroke-width="2"/>
<g class="t"><text x="1408" y="1090" class="ra">250</text><text x="1408" y="1146" class="ra">75</text><text x="1408" y="1180" class="ra">50</text><text x="1408" y="1243" class="ra">25</text><text x="1408" y="1300" class="ra">15</text></g>
<path d="M1409,1082h6M1409,1138h6M1409,1172h6M1409,1235h6M1409,1292h6" class="tk"/>
<path d="M1850,1067h11v220h-11" class="tk"/>
<text x="1871" y="1182" font-size="31">MTS<tspan font-size="18" dy="-13">UBI</tspan></text>
<path d="M1850,1330h10" class="tk"/>
<text x="1863" y="1342" font-size="31">MTS</text>
<text x="1559" y="1371" font-size="23" textLength="137" lengthAdjust="spacingAndGlyphs">fluorescence</text>

<!-- ================= PANEL H ================= -->
<text x="54" y="1473" class="L">h</text>
<g stroke-width="3">
<line x1="124" y1="1457" x2="150" y2="1457" stroke="#e3283a"/>
<line x1="124" y1="1489" x2="150" y2="1489" stroke="#72dbe9"/>
<line x1="124" y1="1522" x2="150" y2="1522" stroke="#33b944"/>
<line x1="124" y1="1554" x2="150" y2="1554" stroke="#ef9a52"/>
</g>
<g class="t">
<text x="169" y="1466">WT/DMSO</text>
<text x="169" y="1498"><tspan class="i">ΔUBR4</tspan>/DMSO</text>
<text x="169" y="1531">WT/CFZ</text>
<text x="169" y="1563">WT/BafA</text>
</g>
<g transform="translate(0 1420) scale(0.638 0.33333)">
<polyline class="cv" vector-effect="non-scaling-stroke" stroke="#72dbe9" points="187,1150 205,1110 225,1070 245,1060 265,1030 285,990 305,930 325,870 345,810 365,760 385,720 405,680 425,640 445,600 465,575 480,620 495,660 515,700 535,780 555,860 575,940 595,1020 610,1070 618,1100"/>
<polyline class="cv" vector-effect="non-scaling-stroke" stroke="#33b944" points="187,1160 210,1155 230,1130 250,1100 270,1050 290,980 310,910 330,850 350,780 370,720 390,680 410,610 425,570 440,575 455,600 470,640 490,700 510,770 530,850 550,920 570,990 590,1050 610,1100 618,1120"/>
<polyline class="cv" vector-effect="non-scaling-stroke" stroke="#ef9a52" points="187,1130 210,1090 230,1040 250,1010 270,960 290,890 310,800 330,720 350,640 365,610 380,590 395,545 410,600 425,610 440,650 455,700 470,760 490,820 510,890 530,950 550,1020 570,1070 590,1110 618,1150"/>
<polyline class="cv" vector-effect="non-scaling-stroke" stroke="#e3283a" points="187,1140 205,1110 220,1090 240,1050 260,1010 280,940 300,880 320,800 340,720 360,640 375,580 385,545 395,580 405,560 415,600 430,590 445,640 460,700 475,760 490,800 505,850 520,910 540,960 560,1030 580,1080 600,1120 618,1145"/>
</g>
<rect x="119" y="1577" width="277" height="236" class="ax"/>
<path d="M0,0v10M1,0v6M2,0v6M3,0v6M4,0v10M5,0v6M6,0v6M7,0v6M8,0v10M9,0v6M10,0v6M11,0v6M12,0v10M13,0v6M14,0v6M15,0v6M16,0v10" transform="translate(119 1813) scale(17.3125 1)" class="tk" vector-effect="non-scaling-stroke"/>
<g class="t mid"><text x="119" y="1851">0.3</text><text x="188" y="1851">0.9</text><text x="257.5" y="1851">1.5</text><text x="327" y="1851">2.1</text><text x="396" y="1851">2.7</text></g>
<text x="140" y="1891" font-size="26" textLength="243" lengthAdjust="spacingAndGlyphs">GFP/mCherry ratio</text>
<text transform="translate(102 1695) rotate(-90)" class="mid" font-size="27" textLength="225" lengthAdjust="spacingAndGlyphs">proportion of cells</text>
<text x="389" y="1610" class="bo ra" font-size="27">MTS</text>

<!-- ================= PANEL I ================= -->
<text x="466" y="1473" class="L">i</text>
<g stroke-width="3">
<line x1="590" y1="1457" x2="616" y2="1457" stroke="#e3283a"/>
<line x1="590" y1="1489" x2="616" y2="1489" stroke="#72dbe9"/>
<line x1="590" y1="1522" x2="616" y2="1522" stroke="#33b944"/>
<line x1="590" y1="1554" x2="616" y2="1554" stroke="#ef9a52"/>
</g>
<g class="t">
<text x="632" y="1466">WT/DMSO</text>
<text x="632" y="1498"><tspan class="i">ΔUBR4</tspan>/DMSO</text>
<text x="632" y="1531">WT/CFZ</text>
<text x="632" y="1563">WT/BafA</text>
</g>
<g transform="translate(0 1420) scale(0.638 0.33333)">
<polyline class="cv" vector-effect="non-scaling-stroke" stroke="#33b944" points="918,1150 940,1130 960,1120 980,1090 1000,1050 1020,990 1040,910 1060,820 1080,730 1100,650 1115,610 1125,640 1140,620 1155,700 1170,770 1190,830 1210,890 1230,940 1250,980 1270,1030 1290,1060 1310,1090 1330,1110 1350,1120"/>
<polyline class="cv" vector-effect="non-scaling-stroke" stroke="#72dbe9" points="918,1140 940,1100 960,1070 980,1020 1000,970 1020,860 1040,740 1060,650 1080,590 1095,545 1105,540 1115,600 1130,680 1150,770 1170,850 1190,900 1210,950 1230,990 1250,1030 1270,1060 1290,1090 1310,1110 1330,1125 1350,1135"/>
<polyline class="cv" vector-effect="non-scaling-stroke" stroke="#ef9a52" points="918,1160 935,1100 950,1060 965,1000 980,980 995,920 1010,860 1025,780 1040,700 1055,600 1065,530 1078,560 1090,590 1105,610 1120,650 1140,740 1160,800 1180,860 1200,920 1220,980 1240,1020 1260,1060 1280,1090 1300,1110 1330,1140 1350,1150"/>
<polyline class="cv" vector-effect="non-scaling-stroke" stroke="#e3283a" points="918,1140 940,1110 960,1070 980,1020 1000,960 1015,880 1030,800 1045,710 1060,620 1075,560 1085,530 1100,570 1115,620 1130,680 1150,760 1170,830 1190,900 1210,950 1230,990 1250,1030 1270,1060 1290,1090 1310,1110 1330,1125 1350,1130"/>
</g>
<rect x="586" y="1577" width="277" height="236" class="ax"/>
<path d="M0,0v10M1,0v6M2,0v6M3,0v6M4,0v10M5,0v6M6,0v6M7,0v6M8,0v10M9,0v6M10,0v6M11,0v6M12,0v10M13,0v6M14,0v6M15,0v6M16,0v10" transform="translate(586 1813) scale(17.3125 1)" class="tk" vector-effect="non-scaling-stroke"/>
<g class="t mid"><text x="586" y="1851">0.3</text><text x="655" y="1851">0.9</text><text x="724.5" y="1851">1.5</text><text x="794" y="1851">2.1</text><text x="863" y="1851">2.7</text></g>
<text x="606" y="1891" font-size="26" textLength="243" lengthAdjust="spacingAndGlyphs">GFP/mCherry ratio</text>
<text transform="translate(572 1695) rotate(-90)" class="mid" font-size="27" textLength="225" lengthAdjust="spacingAndGlyphs">proportion of cells</text>
<text x="855" y="1610" class="bo ra" font-size="27">mut. MTS</text>

<!-- ================= PANEL J ================= -->
<text x="976" y="1473" class="L">j</text>
<g fill="#111">
<circle cx="1201" cy="1500" r="4"/><circle cx="1237" cy="1500" r="6"/><circle cx="1273" cy="1500" r="9"/>
<circle cx="1091" cy="1530" r="4"/><circle cx="1128" cy="1530" r="6"/><circle cx="1164" cy="1530" r="9"/>
<circle cx="1055" cy="1563" r="7.5"/><circle cx="1091" cy="1563" r="7.5"/><circle cx="1128" cy="1563" r="7.5"/><circle cx="1164" cy="1563" r="7.5"/><circle cx="1201" cy="1563" r="7.5"/><circle cx="1237" cy="1563" r="7.5"/><circle cx="1273" cy="1563" r="7.5"/>
</g>
<text x="1302" y="1510" class="i t" textLength="234" lengthAdjust="spacingAndGlyphs">TOMM20-I74S/V109S</text>
<text x="1302" y="1540" class="i t">TOMM20</text>
<text x="1302" y="1572" class="i t">UBR4</text>
<text x="949" y="1582" class="t">kDa</text>
<rect x="998" y="1583" width="291" height="290" fill="#fbfbfb"/>
<rect x="999" y="1768" width="289" height="57" fill="url(#fd)"/>
<rect x="999" y="1824" width="289" height="49" fill="#111"/>
<g fill="#111" filter="url(#bl)">
<rect x="1042" y="1588" width="26" height="60" fill="url(#sm)"/><rect x="1042" y="1590" width="26" height="26" filter="url(#bl2)"/>
<rect x="1078" y="1600" width="26" height="50" fill="url(#sm)" opacity=".85"/>
<rect x="1115" y="1604" width="26" height="46" fill="url(#sm)" opacity=".85"/>
<rect x="1151" y="1606" width="26" height="44" fill="url(#sm)" opacity=".85"/>
<rect x="1188" y="1595" width="26" height="55" fill="url(#sm)"/>
<rect x="1224" y="1597" width="26" height="53" fill="url(#sm)"/>
<rect x="1260" y="1598" width="26" height="52" fill="url(#sm)"/>
</g>
<g fill="#111" filter="url(#bl)" opacity=".85">
<rect x="1078" y="1649" width="98" height="3"/><rect x="1078" y="1655" width="98" height="3"/><rect x="1078" y="1663" width="98" height="3"/><rect x="1078" y="1670" width="98" height="3"/><rect x="1078" y="1685" width="98" height="3"/><rect x="1078" y="1694" width="98" height="3"/><rect x="1078" y="1712" width="98" height="3"/><rect x="1078" y="1730" width="98" height="3"/><rect x="1078" y="1750" width="98" height="6" opacity=".6"/>
</g>
<g fill="#111" filter="url(#bl)" opacity=".5">
<rect x="1188" y="1649" width="98" height="3"/><rect x="1188" y="1655" width="98" height="3"/><rect x="1188" y="1663" width="98" height="3"/><rect x="1188" y="1685" width="98" height="3" opacity=".8"/><rect x="1188" y="1712" width="98" height="3" opacity=".5"/><rect x="1188" y="1751" width="98" height="5" opacity=".5"/>
<rect x="1042" y="1663" width="26" height="3" opacity=".6"/><rect x="1042" y="1712" width="26" height="2" opacity=".4"/>
</g>
<rect x="1103" y="1640" width="12" height="130" fill="#fbfbfb" opacity=".55"/>
<rect x="1140" y="1640" width="11" height="130" fill="#fbfbfb" opacity=".55"/>
<rect x="1213" y="1640" width="11" height="130" fill="#fbfbfb" opacity=".55"/>
<rect x="1249" y="1640" width="11" height="130" fill="#fbfbfb" opacity=".55"/>
<rect x="998" y="1583" width="291" height="290" fill="none" stroke="#222" stroke-width="2"/>
<g class="t"><text x="991" y="1611" class="ra">250</text><text x="991" y="1663" class="ra">75</text><text x="991" y="1699" class="ra">50</text><text x="991" y="1771" class="ra">25</text><text x="991" y="1826" class="ra">15</text></g>
<path d="M992,1603h6M992,1655h6M992,1691h6M992,1763h6M992,1818h6" class="tk"/>
<path d="M1292,1583h12v205h-12" class="tk"/>
<text x="1312" y="1695" font-size="31">MTS<tspan font-size="18" dy="-13">UBI</tspan></text>
<path d="M1292,1847h8" class="tk"/>
<text x="1303" y="1859" font-size="31">MTS</text>
<text x="1088" y="1891" font-size="23" textLength="136" lengthAdjust="spacingAndGlyphs">fluorescence</text>

<!-- ================= PANEL K ================= -->
<text x="1624" y="1473" class="L">k</text>
<g fill="#111">
<circle cx="1702" cy="1467" r="7.5"/><circle cx="1774" cy="1467" r="7.5"/>
<circle cx="1738" cy="1498" r="7.5"/><circle cx="1774" cy="1498" r="7.5"/>
<circle cx="1666" cy="1528" r="7.5"/><circle cx="1702" cy="1528" r="7.5"/>
<circle cx="1666" cy="1562" r="7.5"/><circle cx="1702" cy="1562" r="7.5"/><circle cx="1738" cy="1562" r="7.5"/><circle cx="1774" cy="1562" r="7.5"/>
</g>
<text x="1800" y="1476" class="i t">UBR4</text>
<text x="1800" y="1507" class="i t">mut-MTS</text>
<text x="1800" y="1537" class="i t">wt-MTS</text>
<text x="1800" y="1571" class="i t">E1/E2/Ub</text>
<text x="1598" y="1584" class="t">kDa</text>
<rect x="1650" y="1575" width="144" height="300" fill="#fbfbfb"/>
<rect x="1651" y="1783" width="142" height="22" fill="url(#fd)"/>
<rect x="1651" y="1804" width="142" height="71" fill="#111"/>
<g fill="#111">
<path d="M1690,1582 L1714,1582 L1708,1605 L1714,1630 L1690,1630 L1696,1605Z" filter="url(#bl2)"/>
<rect x="1689" y="1620" width="26" height="32" fill="url(#fdr)" opacity=".6" filter="url(#bl)"/>
<rect x="1762" y="1585" width="24" height="25" opacity=".12" filter="url(#bl)"/>
<path d="M1733,1759 L1743,1753" stroke="#111" stroke-width="3"/>
</g>
<rect x="1650" y="1575" width="144" height="300" fill="none" stroke="#222" stroke-width="2"/>
<g class="t"><text x="1643" y="1611" class="ra">250</text><text x="1643" y="1665" class="ra">75</text><text x="1643" y="1696" class="ra">50</text><text x="1643" y="1765" class="ra">25</text><text x="1643" y="1811" class="ra">15</text></g>
<path d="M1644,1603h6M1644,1657h6M1644,1688h6M1644,1757h6M1644,1803h6" class="tk"/>
<path d="M1794,1582h12v203h-12" class="tk"/>
<text x="1812" y="1692" font-size="31">MTS<tspan font-size="18" dy="-13">UBI</tspan></text>
<path d="M1796,1843h9" class="tk"/>
<text x="1808" y="1855" font-size="31">MTS</text>
<text x="1653" y="1893" font-size="23" textLength="140" lengthAdjust="spacingAndGlyphs">fluorescence</text>

<!-- ================= PANEL L ================= -->
<text x="38" y="1985" class="L">l</text>
<text transform="translate(80 2030) rotate(-45)" class="i" font-size="26">DMSO</text>
<text transform="translate(153 2030) rotate(-45)" class="i" font-size="26">OM/ISRIB</text>
<path d="M61,2039h60M128,2039h60" class="tk"/>
<g fill="#111"><circle cx="108" cy="2058" r="8"/><circle cx="179" cy="2058" r="8"/><circle cx="73" cy="2086" r="8"/><circle cx="144" cy="2086" r="8"/></g>
<text x="207" y="2067" class="i t">ΔUBR4</text>
<text x="207" y="2095" class="t">WT</text>
<text x="6" y="2118" class="t">kDa</text>
<g fill="#fcfcfc" stroke="#222" stroke-width="2">
<rect x="54" y="2106" width="145" height="61"/><rect x="54" y="2177" width="145" height="60"/><rect x="54" y="2248" width="145" height="59"/><rect x="54" y="2315" width="145" height="60"/><rect x="54" y="2384" width="145" height="47"/><rect x="54" y="2441" width="145" height="47"/>
</g>
<g fill="#111" filter="url(#bl)">
<rect x="59" y="2137" width="28" height="12" rx="3"/><rect x="94" y="2138" width="28" height="10" rx="3" opacity=".9"/><rect x="130" y="2138" width="28" height="10" rx="3" opacity=".95"/><rect x="165" y="2137" width="28" height="12" rx="3"/>
<rect x="130" y="2124" width="28" height="6" rx="3" opacity=".5"/><rect x="165" y="2118" width="28" height="13" rx="3"/>
<rect x="130" y="2195" width="28" height="5" rx="2" opacity=".6"/><rect x="165" y="2194" width="28" height="7" rx="2"/>
<rect x="59" y="2214" width="28" height="6" rx="2" opacity=".95"/><rect x="94" y="2214" width="28" height="6" rx="2" opacity=".95"/><rect x="130" y="2215" width="28" height="4" rx="2" opacity=".3"/><rect x="165" y="2215" width="28" height="4" rx="2" opacity=".35"/>
<rect x="59" y="2265" width="28" height="4" rx="2" opacity=".2"/><rect x="94" y="2264" width="28" height="5" rx="2" opacity=".7"/><rect x="130" y="2264" width="28" height="6" rx="2" opacity=".95"/><rect x="165" y="2263" width="28" height="7" rx="2"/>
<rect x="59" y="2284" width="28" height="7" rx="2"/><rect x="94" y="2284" width="28" height="8" rx="2"/><rect x="130" y="2285" width="28" height="6" rx="2" opacity=".9"/><rect x="165" y="2285" width="28" height="5" rx="2" opacity=".6"/>
<rect x="130" y="2331" width="28" height="5" rx="2" opacity=".6"/><rect x="165" y="2331" width="28" height="6" rx="2"/>
<rect x="59" y="2350" width="28" height="8" rx="3"/><rect x="94" y="2350" width="28" height="8" rx="3" opacity=".9"/><rect x="130" y="2350" width="28" height="8" rx="3"/><rect x="165" y="2350" width="28" height="8" rx="3"/>
<rect x="59" y="2406" width="28" height="6" rx="2"/><rect x="130" y="2406" width="28" height="6" rx="2"/>
<rect x="59" y="2460" width="28" height="9" rx="3"/><rect x="94" y="2460" width="28" height="9" rx="3"/><rect x="130" y="2460" width="28" height="9" rx="3"/><rect x="165" y="2460" width="28" height="9" rx="3"/>
</g>
<g class="t"><text x="46" y="2153" class="ra">50</text><text x="46" y="2226" class="ra">37</text><text x="46" y="2279" class="ra">25</text><text x="46" y="2341" class="ra">20</text><text x="48" y="2438" class="ra">250</text><text x="46" y="2483" class="ra">50</text></g>
<path d="M48,2145h6M48,2218h6M48,2271h6M48,2333h6M48,2430h6M48,2475h6" class="tk"/>
<path d="M202,2130l6,-5h5M202,2140l6,6h5M202,2201l6,-5h5M202,2212l6,6h5M202,2267l6,-5h5M202,2286l6,6h5M202,2336l6,-5h5M202,2352l6,6h5M202,2409h8M202,2465h8" class="tk"/>
<g font-size="31">
<text x="223" y="2133">MTS-ECSIT<tspan font-size="19" dy="-12">HA</tspan></text>
<text x="223" y="2165">ECSIT<tspan font-size="19" dy="-12">HA</tspan></text>
<text x="223" y="2205">MTS-NDUFAF1<tspan font-size="19" dy="-12">HA</tspan></text>
<text x="223" y="2233">NDUFAF1<tspan font-size="19" dy="-12">HA</tspan></text>
<text x="223" y="2269">MTS-NME4<tspan font-size="19" dy="-12">HA</tspan></text>
<text x="223" y="2303">NME4<tspan font-size="19" dy="-12">HA</tspan></text>
<text x="223" y="2341">MTS-COX5A<tspan font-size="19" dy="-12">HA</tspan></text>
<text x="223" y="2371">COX5A<tspan font-size="19" dy="-12">HA</tspan></text>
<text x="212" y="2407">UBR4</text>
<text x="212" y="2465">tubulin</text>
</g>
<text x="212" y="2429" class="i" font-size="20">(COX5A<tspan font-size="13" dy="-8">HA</tspan><tspan dy="8">)</tspan></text>
<text x="212" y="2487" class="i" font-size="20">(COX5A<tspan font-size="13" dy="-8">HA</tspan><tspan dy="8">)</tspan></text>
<text x="80" y="2515" font-size="23" textLength="89" lengthAdjust="spacingAndGlyphs">Western</text>

<!-- ================= PANEL M ================= -->
<text x="469" y="1985" class="L">m</text>
<g stroke-width="3">
<line x1="550" y1="2062" x2="577" y2="2062" stroke="#e3283a"/>
<line x1="550" y1="2096" x2="577" y2="2096" stroke="#33b944"/>
<line x1="550" y1="2130" x2="577" y2="2130" stroke="#ef9a52"/>
</g>
<g class="t">
<text x="592" y="2071">WT/siCNTRL</text>
<text x="592" y="2105">WT/siHSPA9</text>
<text x="592" y="2139">WT/siTIMM16</text>
</g>
<g transform="translate(0 1930) scale(0.638 0.377)">
<polyline class="cv" vector-effect="non-scaling-stroke" stroke="#ef9a52" points="855,1255 880,1250 905,1240 925,1200 940,1140 955,1020 970,920 985,830 1000,740 1010,675 1020,730 1030,760 1040,800 1050,840 1065,880 1080,930 1095,970 1110,1010 1125,1050 1140,1090 1155,1120 1170,1150 1190,1180 1210,1200 1230,1205 1250,1215 1270,1225 1285,1230"/>
<polyline class="cv" vector-effect="non-scaling-stroke" stroke="#33b944" points="855,1255 880,1250 900,1240 915,1215 930,1150 945,1040 960,920 975,820 985,760 998,685 1005,720 1015,760 1030,840 1045,920 1060,990 1075,1040 1090,1080 1105,1100 1120,1130 1140,1165 1160,1195 1180,1210 1200,1220 1230,1235 1260,1245 1285,1245"/>
<polyline class="cv" vector-effect="non-scaling-stroke" stroke="#e3283a" points="855,1160 865,1130 875,1122 885,1130 895,1100 905,980 915,820 925,710 935,730 942,750 948,705 955,750 962,790 970,800 980,840 990,860 1000,880 1010,940 1020,990 1030,1000 1045,1020 1055,1060 1065,1070 1075,1050 1085,1100 1095,1110 1110,1140 1125,1170 1140,1180 1160,1195 1180,1195 1200,1205 1220,1210 1240,1218 1260,1222 1285,1228"/>
</g>
<rect x="545" y="2173" width="276" height="236" class="ax"/>
<path d="M0,0v10M1,0v6M2,0v6M3,0v6M4,0v10M5,0v6M6,0v6M7,0v6M8,0v10M9,0v6M10,0v6M11,0v6M12,0v10M13,0v6M14,0v6M15,0v6M16,0v10" transform="translate(545 2409) scale(17.25 1)" class="tk" vector-effect="non-scaling-stroke"/>
<g class="t mid"><text x="545" y="2446">0</text><text x="614" y="2446">0.7</text><text x="683" y="2446">1.4</text><text x="752" y="2446">2.1</text><text x="821" y="2446">2.8</text></g>
<text x="568" y="2484" font-size="26" textLength="239" lengthAdjust="spacingAndGlyphs">GFP/mCherry ratio</text>
<text transform="translate(527 2291) rotate(-90)" class="mid" font-size="27" textLength="226" lengthAdjust="spacingAndGlyphs">proportion of cells</text>
<text x="813" y="2204" class="bo ra" font-size="27">HRI</text>

<!-- ================= PANEL N ================= -->
<text x="855" y="1985" class="L">n</text>
<g stroke-width="3">
<line x1="919" y1="2118" x2="944" y2="2118" stroke="#e3283a"/>
<line x1="919" y1="2149" x2="944" y2="2149" stroke="#ef9a52"/>
</g>
<g class="t">
<text x="960" y="2127">WT/siCNTRL</text>
<text x="960" y="2158">WT/siTIMM16</text>
</g>
<polyline class="cv" stroke="#ef9a52" points="912,2405 919,2388 931,2388 951,2364 963,2288 976,2250 989,2224 998,2232 1007,2194 1016,2217 1026,2217 1039,2250 1052,2232 1065,2269 1078,2288 1091,2311 1104,2326 1124,2345 1143,2360 1163,2375 1187,2381"/>
<polyline class="cv" stroke="#e3283a" points="912,2364 922,2382 931,2379 944,2348 957,2262 970,2194 979,2190 989,2198 998,2194 1003,2205 1013,2224 1026,2250 1045,2288 1065,2326 1078,2345 1098,2348 1117,2367 1137,2382 1156,2386 1169,2396 1187,2394"/>
<rect x="912" y="2173" width="275" height="236" class="ax"/>
<path d="M0,0v10M1,0v6M2,0v6M3,0v6M4,0v10M5,0v6M6,0v6M7,0v6M8,0v10M9,0v6M10,0v6M11,0v6M12,0v10M13,0v6M14,0v6M15,0v6M16,0v10" transform="translate(912 2409) scale(17.1875 1)" class="tk" vector-effect="non-scaling-stroke"/>
<g class="t mid"><text x="912" y="2446">0</text><text x="981" y="2446">0.4</text><text x="1049.5" y="2446">0.8</text><text x="1118" y="2446">1.2</text><text x="1187" y="2446">1.6</text></g>
<text x="935" y="2484" font-size="26" textLength="240" lengthAdjust="spacingAndGlyphs">GFP/mCherry ratio</text>
<text transform="translate(894 2291) rotate(-90)" class="mid" font-size="27" textLength="226" lengthAdjust="spacingAndGlyphs">proportion of cells</text>
<text x="1182" y="2204" class="bo ra" font-size="27">cDELE1</text>

<!-- ================= PANEL O ================= -->
<text x="1224" y="1985" class="L">o</text>
<g stroke-width="3">
<line x1="1322" y1="2086" x2="1345" y2="2086" stroke="#e3283a"/>
<line x1="1322" y1="2118" x2="1345" y2="2118" stroke="#72dbe9"/>
<line x1="1322" y1="2149" x2="1345" y2="2149" stroke="#33b944"/>
</g>
<g class="t">
<text x="1361" y="2095">WT/siCNTRL</text>
<text x="1361" y="2127">WT/siTIMM16</text>
<text x="1361" y="2158"><tspan class="i">ΔUBR4</tspan>/siTIMM16</text>
</g>
<g transform="translate(1000 1930) scale(0.65 0.377)">
<polyline class="cv" vector-effect="non-scaling-stroke" stroke="#72dbe9" points="483,1230 495,1200 510,1160 525,1080 540,1000 555,930 570,870 585,800 600,710 612,760 625,700 640,760 655,780 670,800 685,840 700,890 720,930 740,980 760,1020 780,1060 800,1100 820,1140 840,1170 860,1190 880,1210 905,1235"/>
<polyline class="cv" vector-effect="non-scaling-stroke" stroke="#33b944" points="483,1220 495,1190 505,1170 520,1180 535,1090 550,1010 565,940 580,870 592,770 605,800 620,780 635,810 645,750 655,720 670,770 680,740 690,690 700,770 715,820 730,860 745,900 760,950 780,1000 800,1050 820,1100 840,1150 860,1180 880,1200 905,1225"/>
<polyline class="cv" vector-effect="non-scaling-stroke" stroke="#e3283a" points="483,1210 495,1230 510,1245 530,1230 545,1180 560,1130 580,1050 600,980 615,920 630,880 645,840 660,800 675,790 690,760 705,730 715,710 725,725 735,705 745,715 760,740 770,760 785,790 800,830 815,870 830,920 845,950 860,980 870,1030 880,1060 895,1090 905,1080"/>
</g>
<rect x="1314" y="2173" width="274" height="236" class="ax"/>
<path d="M0,0v10M1,0v6M2,0v6M3,0v6M4,0v10M5,0v6M6,0v6M7,0v6M8,0v10M9,0v6M10,0v6M11,0v6M12,0v10M13,0v6M14,0v6M15,0v6M16,0v10" transform="translate(1314 2409) scale(17.125 1)" class="tk" vector-effect="non-scaling-stroke"/>
<g class="t mid"><text x="1314" y="2446">0</text><text x="1382.5" y="2446">2</text><text x="1451" y="2446">4</text><text x="1519.5" y="2446">6</text><text x="1588" y="2446">8</text></g>
<text x="1335" y="2484" font-size="26" textLength="240" lengthAdjust="spacingAndGlyphs">GFP/mCherry ratio</text>
<text transform="translate(1300 2291) rotate(-90)" class="mid" font-size="27" textLength="226" lengthAdjust="spacingAndGlyphs">proportion of cells</text>
<text x="1585" y="2204" class="bo ra" font-size="27">MTS</text>

<!-- ================= PANEL P ================= -->
<text x="1621" y="1983" class="L">p</text>
<g stroke-width="3">
<line x1="1670" y1="1996" x2="1694" y2="1996" stroke="#7a1010"/>
<line x1="1670" y1="2026" x2="1694" y2="2026" stroke="#e8384a"/>
<line x1="1670" y1="2056" x2="1694" y2="2056" stroke="#f0a058"/>
<line x1="1670" y1="2088" x2="1694" y2="2088" stroke="#1a2aa8"/>
<line x1="1670" y1="2118" x2="1694" y2="2118" stroke="#3a6ad8"/>
<line x1="1670" y1="2149" x2="1694" y2="2149" stroke="#78e0ee"/>
</g>
<g class="t">
<text x="1705" y="2005"><tspan class="i">ΔUBR4</tspan>/siCNTRL</text>
<text x="1705" y="2035"><tspan class="i">ΔUBR4</tspan>/siHRI</text>
<text x="1705" y="2065"><tspan class="i">ΔUBR4</tspan>/siDELE1</text>
<text x="1705" y="2097" textLength="309" lengthAdjust="spacingAndGlyphs"><tspan class="i">ΔUBR4</tspan>/NIPSNAP1/siCNTRL</text>
<text x="1705" y="2127"><tspan class="i">ΔUBR4</tspan>/NIPSNAP1/siHRI</text>
<text x="1705" y="2158"><tspan class="i">ΔUBR4</tspan>/NIPSNAP1/siDELE1</text>
</g>
<g transform="translate(1000 1930) scale(0.65 0.377)">
<polyline class="cv" vector-effect="non-scaling-stroke" stroke="#1a2aa8" points="1083,1080 1098,1190 1110,1130 1125,950 1140,820 1155,720 1162,710 1170,760 1178,800 1185,790 1195,840 1210,900 1230,960 1245,1030 1260,1100 1280,1150 1300,1170 1320,1190 1340,1200 1360,1210 1400,1230 1450,1245 1505,1255"/>
<polyline class="cv" vector-effect="non-scaling-stroke" stroke="#78e0ee" points="1083,1130 1100,870 1115,700 1125,720 1140,820 1160,910 1180,1020 1210,1110 1250,1170 1300,1200 1350,1220 1400,1240 1505,1258"/>
<polyline class="cv" vector-effect="non-scaling-stroke" stroke="#3a6ad8" points="1083,1120 1095,950 1110,730 1120,780 1140,920 1160,1060 1190,1140 1230,1180 1300,1220 1400,1245 1505,1260"/>
<polyline class="cv" vector-effect="non-scaling-stroke" stroke="#f0a058" points="1083,1200 1095,1000 1106,720 1118,760 1135,900 1155,1040 1180,1120 1210,1160 1260,1200 1320,1230 1400,1250 1505,1262"/>
<polyline class="cv" vector-effect="non-scaling-stroke" stroke="#7a1010" points="1083,1090 1090,1140 1100,900 1110,730 1120,780 1135,900 1150,1010 1170,1080 1180,1100 1190,1110 1200,1120 1210,1140 1220,1150 1230,1165 1250,1180 1270,1195 1300,1215 1350,1235 1400,1250 1450,1260 1505,1265"/>
<polyline class="cv" vector-effect="non-scaling-stroke" stroke="#e8384a" points="1083,1100 1095,1000 1105,718 1115,740 1130,900 1150,1060 1170,1140 1200,1180 1240,1210 1300,1240 1350,1252 1400,1258 1505,1265"/>
</g>
<rect x="1704" y="2173" width="274" height="236" class="ax"/>
<path d="M0,0v10M1,0v6M2,0v6M3,0v6M4,0v6M5,0v6M6,0v6M7,0v6M8,0v6M9,0v6M10,0v10M11,0v6M12,0v6M13,0v6M14,0v6M15,0v6M16,0v6M17,0v6M18,0v6M19,0v6M20,0v10" transform="translate(1704 2409) scale(13.7 1)" class="tk" vector-effect="non-scaling-stroke"/>
<g class="t mid"><text x="1704" y="2446">0</text><text x="1841" y="2446">0.05</text><text x="1978" y="2446">0.1</text></g>
<text x="1725" y="2484" font-size="26" textLength="240" lengthAdjust="spacingAndGlyphs">GFP/mCherry ratio</text>
<text transform="translate(1690 2291) rotate(-90)" class="mid" font-size="27" textLength="226" lengthAdjust="spacingAndGlyphs">proportion of cells</text>
<text x="1972" y="2204" class="bo ra" font-size="27">ISR</text>
</svg>
</body></html>
